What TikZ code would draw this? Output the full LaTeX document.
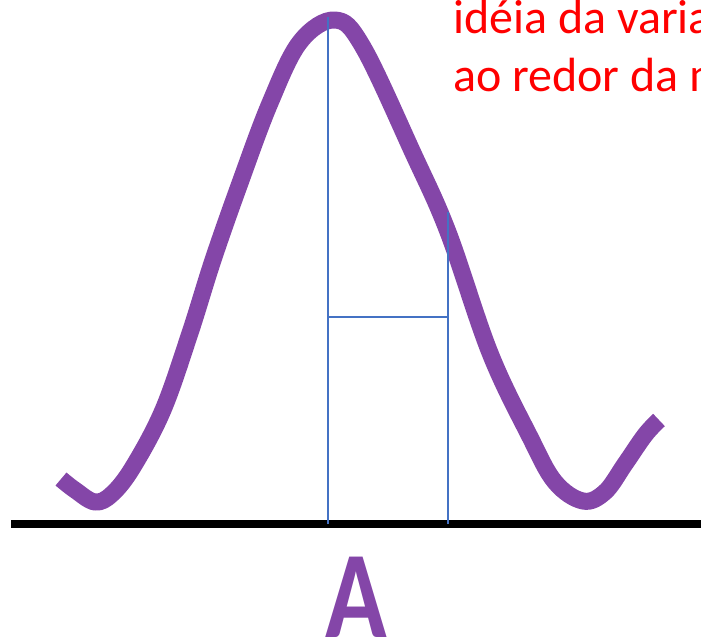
\documentclass[tikz,border=0pt]{standalone}
\usepackage{fontspec}
\setmainfont{Carlito}
\definecolor{curvepurple}{RGB}{132,70,168}
\definecolor{guideblue}{RGB}{68,114,196}
\definecolor{notered}{RGB}{255,0,0}
\begin{document}
\begin{tikzpicture}[x=1pt,y=-1pt,
  curve/.style={draw=curvepurple,line width=17pt,line cap=butt,line join=round},
  guide/.style={draw=guideblue,line width=1.8pt},
  axis/.style={draw=black,line width=8pt},
  note/.style={text=notered,font=\fontsize{48}{58}\selectfont,inner sep=0pt,anchor=base west},
  biglabel/.style={text=curvepurple,font=\fontsize{124}{130}\selectfont\bfseries,inner sep=0pt,anchor=north}]
\useasboundingbox (0,0) rectangle (701,637);
\clip (0,0) rectangle (701,637);
% axis
\coordinate (axL) at (11,524);
\coordinate (axR) at (705,524);
\draw[axis] (axL) -- (axR);
% curve
\draw[curve] plot[smooth,tension=0.6] coordinates {
 (61,479) (75,490) (95,502) (112,494) (133,467) (163,410) (190,333) (213,260)
 (240,183) (270,103) (300,42) (335,20) (363,47) (413,153) (448,232) (490,353)
 (530,437) (555,482) (583,501) (605,492) (625,464) (645,435) (659,420)};
% guide lines
\coordinate (v1top) at (328,17);
\coordinate (v1bot) at (328,524);
\coordinate (v2top) at (448,212);
\coordinate (v2bot) at (448,524);
\coordinate (hL) at (328,317);
\coordinate (hR) at (448,317);
\draw[guide] (v1top) -- (v1bot);
\draw[guide] (v2top) -- (v2bot);
\draw[guide] (hL) -- (hR);
% texts
\node[note] (t1) at (453,33) {idéia da variação};
\node[note] (t2) at (453,91) {ao redor da média};
\node[biglabel,xscale=0.82,transform shape] (lblA) at (356,557) {A};
\end{tikzpicture}
\end{document}
